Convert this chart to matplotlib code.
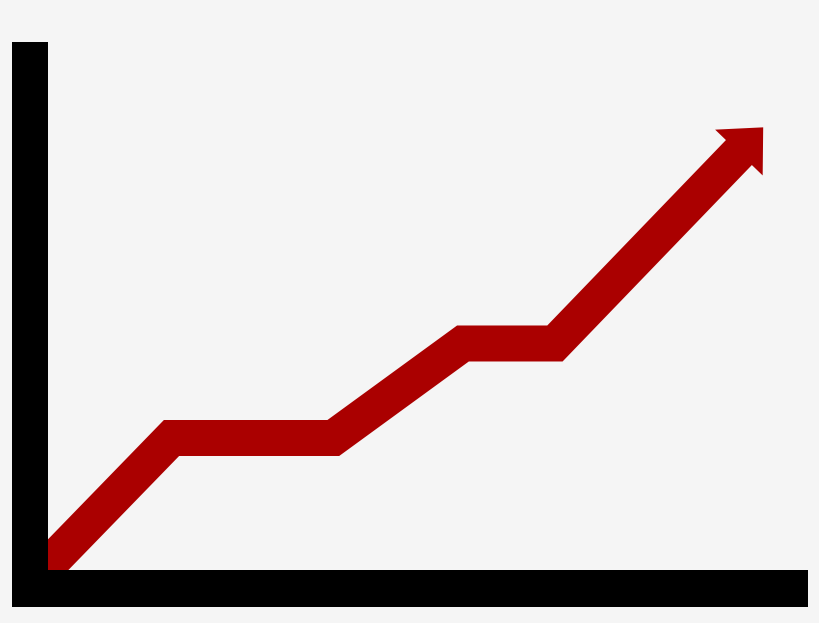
import matplotlib
matplotlib.use('Agg')
import matplotlib.pyplot as plt
from matplotlib.patches import Rectangle, Polygon
from matplotlib.transforms import IdentityTransform
import numpy as np

# Trend data (arbitrary units, axes range 0..10)
trend_x = [-0.46, 1.625, 3.754, 5.46, 6.67, 9.10]
trend_y = [-0.59, 2.50, 2.50, 4.29, 4.29, 7.92]

W, H = 820, 623
DPI = 100
BG = '#f5f5f5'
RED = '#aa0000'

fig = plt.figure(figsize=(W / DPI, H / DPI), dpi=DPI, facecolor=BG)
ax = fig.add_axes([48 / W, (H - 570) / H, (808 - 48) / W, (570 - 42) / H])
ax.set_xlim(0, 10)
ax.set_ylim(0, 10)
ax.set_facecolor(BG)
ax.axis('off')

lw_px = 36
ax.plot(trend_x, trend_y, color=RED, linewidth=lw_px * 72 / DPI,
        solid_joinstyle='miter', solid_capstyle='butt', zorder=2)

# Arrowhead computed from the last segment, in display pixels
fig.canvas.draw()
p_end = ax.transData.transform((trend_x[-1], trend_y[-1]))
p_prev = ax.transData.transform((trend_x[-2], trend_y[-2]))
d = p_end - p_prev
d = d / np.hypot(*d)
n = np.array([-d[1], d[0]])
head_len, head_half = 34, 33
base = p_end - d * 1.0
head = np.array([base + n * head_half, p_end + d * head_len, base - n * head_half])
ax.add_patch(Polygon(head, closed=True, facecolor=RED, edgecolor='none',
                     transform=IdentityTransform(), clip_on=False, zorder=3))

# Black axis bars
fig.add_artist(Rectangle((12 / W, (H - 607) / H), 36 / W, (607 - 42) / H,
                         transform=fig.transFigure, facecolor='black', edgecolor='none', zorder=5))
fig.add_artist(Rectangle((12 / W, (H - 607) / H), (808 - 12) / W, 37 / H,
                         transform=fig.transFigure, facecolor='black', edgecolor='none', zorder=5))

fig.savefig('out.png', dpi=DPI, facecolor=BG)
